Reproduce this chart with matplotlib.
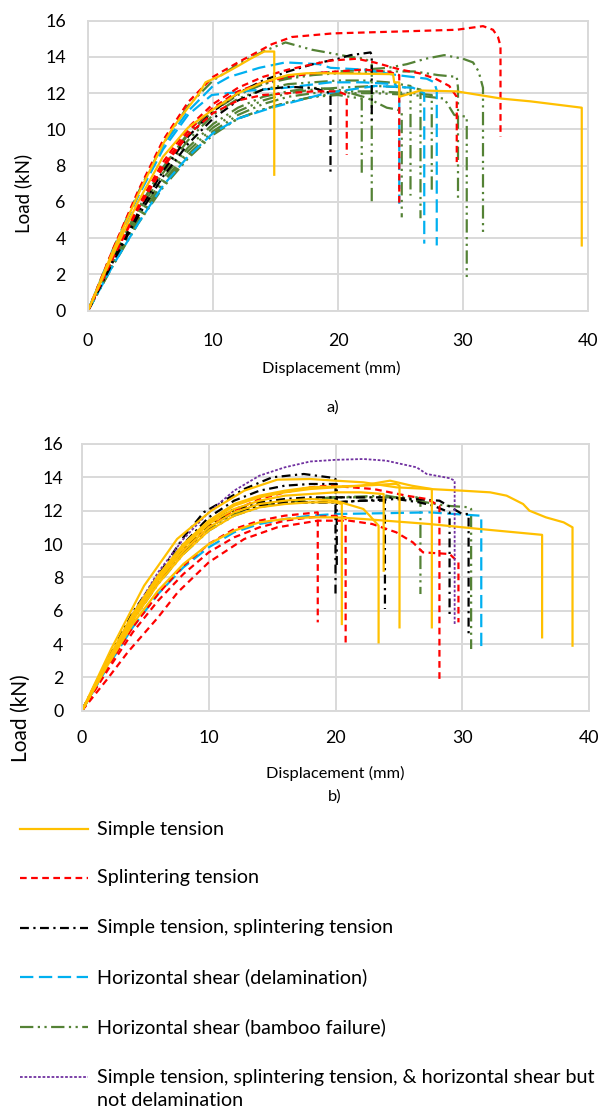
import matplotlib
matplotlib.use("Agg")
import matplotlib.pyplot as plt
from matplotlib.lines import Line2D

plt.rcParams['font.family'] = ['Lato', 'DejaVu Sans']

# ---------------- data: panel a) ----------------
# each category: list of x-lists and matching list of y-lists (one per specimen)
a_simple_x = [
    [0, 2, 4, 6, 6.8, 8, 8.9, 9.4, 10.7, 12, 13, 14.1, 14.9, 14.9],
    [0, 2, 4, 6, 8, 10, 12, 14, 16, 17.5, 19.4, 24.4, 24.5, 24.9, 24.9, 26.6, 29.5, 33.1, 35.4, 39.5, 39.5],
]
a_simple_y = [
    [0, 3.3, 6.4, 9.2, 10.1, 11.2, 12.0, 12.6, 13.0, 13.5, 13.9, 14.3, 14.3, 7.5],
    [0, 3.1, 6.0, 8.5, 10.1, 11.1, 12.0, 12.6, 13.0, 13.1, 13.1, 13.05, 12.6, 12.6, 11.8, 12.15, 12.1, 11.7, 11.55, 11.2, 3.6],
]
a_splinter_x = [
    [0, 2, 4, 6, 8, 10, 12, 14.7, 16.3, 19.6, 24.7, 29.5, 31.6, 32.4, 32.8, 33.0, 33.0],
    [0, 2, 4, 6, 8, 10, 12, 14, 16, 18, 19.4, 21.5, 22.9, 25, 26.5, 27.8, 28.9, 29.5, 29.5],
    [0, 2, 4, 6, 8, 10, 12, 14, 16, 18, 20, 20.7, 20.7],
    [0, 2, 4, 6, 8, 10, 12, 14, 16, 18, 20, 22, 24, 24.9, 24.9],
]
a_splinter_y = [
    [0, 3.4, 6.6, 9.4, 11.5, 12.9, 13.7, 14.7, 15.1, 15.3, 15.4, 15.5, 15.7, 15.5, 15.1, 14.6, 9.6],
    [0, 3.0, 5.8, 8.2, 10.1, 11.4, 12.3, 12.9, 13.3, 13.6, 13.8, 13.9, 13.7, 13.3, 13.1, 12.8, 12.4, 11.8, 8.2],
    [0, 2.9, 5.6, 7.9, 9.7, 10.9, 11.6, 11.9, 12.0, 12.1, 12.1, 11.9, 8.6],
    [0, 3.0, 5.7, 8.0, 9.9, 11.2, 12.1, 12.6, 12.9, 13.1, 13.2, 13.3, 13.2, 13.0, 5.9],
]
a_both_x = [
    [0, 2, 4, 6, 8, 10, 12, 14, 16, 18, 19.4, 19.4],
    [0, 2, 4, 6, 8, 10, 12, 14, 16, 18, 20, 21, 22.1, 22.6, 22.7, 22.7],
]
a_both_y = [
    [0, 2.7, 5.2, 7.4, 9.2, 10.6, 11.6, 12.2, 12.35, 12.3, 12.0, 7.5],
    [0, 2.8, 5.4, 7.7, 9.6, 11.0, 12.0, 12.7, 13.2, 13.6, 13.9, 14.1, 14.2, 14.25, 14.1, 10.5],
]
a_delam_x = [
    [0, 2, 4, 6, 8, 10, 11.3, 13.7, 15.8, 18.5, 19.4, 22.1, 24.7, 27.1, 27.7, 27.9, 27.9],
    [0, 2, 4, 6, 8, 9.9, 13.1, 15.8, 19.4, 22, 24.5, 24.9, 24.9],
    [0, 2, 4, 6, 8, 10, 12, 14.7, 18.5, 20, 23, 26, 26.9, 26.9],
]
a_delam_y = [
    [0, 3.3, 6.4, 9.1, 11.0, 12.4, 12.9, 13.4, 13.7, 13.6, 13.4, 13.3, 13.0, 12.8, 12.6, 12.15, 3.6],
    [0, 3.3, 6.3, 8.9, 10.8, 11.9, 12.15, 12.3, 12.6, 12.6, 12.5, 12.3, 5.9],
    [0, 2.5, 4.8, 6.9, 8.5, 9.8, 10.6, 11.2, 11.9, 12.1, 12.4, 12.3, 12.0, 3.7],
]
a_bamboo_x = [
    [0, 2, 4, 6, 8, 10, 12, 14, 15.8, 17.9, 19.5, 21, 22.2, 22.7, 22.7],
    [0, 2, 4, 6, 8, 10, 12, 14, 16, 18, 20, 22, 24, 25.5, 27, 28.5, 30, 30.8, 31.25, 31.6, 31.6],
    [0, 2, 4, 6, 8, 10, 12, 14, 16, 18, 20, 23, 26.1, 28, 29.5, 29.6, 29.6],
    [0, 2, 4, 6, 8, 10, 12, 14, 16, 18, 20, 22.3, 23.9, 24.7, 25.1, 25.1],
    [0, 2, 4, 6, 8, 10, 12, 14, 16, 18, 20, 21.9, 21.9],
    [0, 2, 4, 6, 8, 10, 12, 14, 16, 18, 20, 22, 24, 25.8, 25.8],
    [0, 2, 4, 6, 8, 10, 12, 14, 16, 18, 20, 23, 26, 26.6, 26.6],
    [0, 2, 4, 6, 8, 10, 12, 14, 16, 18, 20, 23, 26, 27.5, 27.5],
    [0, 2, 4, 6, 8, 10, 12, 14, 16, 18, 20, 23, 26, 28.5, 29.3, 30.3, 30.3],
]
a_bamboo_y = [
    [0, 3.4, 6.5, 9.2, 11.3, 12.7, 13.6, 14.3, 14.8, 14.4, 14.2, 14.0, 13.9, 13.6, 5.8],
    [0, 2.9, 5.6, 7.9, 9.7, 11.0, 11.9, 12.5, 12.9, 13.1, 13.2, 13.3, 13.4, 13.6, 13.9, 14.1, 13.9, 13.7, 13.2, 12.3, 4.3],
    [0, 2.9, 5.6, 7.9, 9.8, 11.1, 12.0, 12.5, 12.8, 13.0, 13.1, 13.2, 13.2, 13.0, 12.9, 12.3, 6.2],
    [0, 2.7, 5.2, 7.3, 9.0, 10.3, 11.2, 11.8, 12.1, 12.3, 12.2, 11.75, 11.2, 11.1, 11.0, 5.15],
    [0, 2.5, 4.9, 6.9, 8.5, 9.8, 10.6, 11.1, 11.5, 11.8, 11.9, 11.7, 7.5],
    [0, 2.8, 5.4, 7.6, 9.4, 10.8, 11.7, 12.2, 12.5, 12.6, 12.7, 12.7, 12.6, 12.4, 6.35],
    [0, 2.6, 5.0, 7.1, 8.8, 10.1, 11.0, 11.6, 12.0, 12.2, 12.3, 12.4, 12.3, 12.2, 5.1],
    [0, 2.6, 5.0, 7.0, 8.6, 9.9, 10.8, 11.4, 11.8, 12.0, 12.1, 12.1, 12.0, 11.9, 6.6],
    [0, 2.5, 4.8, 6.8, 8.4, 9.7, 10.6, 11.1, 11.5, 11.8, 12.0, 12.0, 11.9, 11.7, 10.8, 10.7, 1.8],
]

# ---------------- data: panel b) ----------------
b_simple_x = [
    [0, 2.3, 4.9, 7.5, 10.2, 12.8, 15.4, 18, 20, 22.2, 24.8, 27.4, 30, 32.2, 33.5, 34.8, 35.3, 36.6, 38, 38.7, 38.7],
    [0, 2, 4, 6, 8, 10, 12, 14, 16, 18, 20, 22.2, 24.5, 24.8, 25.05, 25.05],
    [0, 2, 4, 6, 8, 10, 12, 14, 16, 18, 20, 20.5, 20.5],
    [0, 2, 4, 6, 8, 10, 12, 14, 16, 18, 20, 22.2, 22.7, 23.4, 23.4],
    [0, 2, 4, 6, 8, 10, 12, 14, 16, 18, 20, 22, 23.8, 23.8],
    [0, 2, 4, 6, 8, 10, 12, 14, 16, 18, 20, 22, 24.3, 26, 27.6, 27.6],
    [0, 2, 4, 6, 8, 10, 12, 14, 16, 18, 20, 22.2, 27.4, 31.4, 36.3, 36.3],
]
b_simple_y = [
    [0, 3.7, 7.5, 10.3, 12.0, 13.2, 13.86, 13.9, 13.8, 13.7, 13.4, 13.3, 13.2, 13.1, 12.9, 12.4, 12.0, 11.6, 11.3, 11.0, 3.9],
    [0, 3.0, 5.8, 8.1, 10.0, 11.4, 12.4, 12.9, 13.2, 13.4, 13.45, 13.5, 13.6, 13.6, 13.5, 5.0],
    [0, 2.8, 5.4, 7.6, 9.4, 10.8, 11.7, 12.2, 12.4, 12.5, 12.5, 12.4, 5.2],
    [0, 2.9, 5.6, 7.8, 9.6, 11.0, 11.9, 12.4, 12.6, 12.7, 12.6, 12.1, 11.7, 11.1, 4.1],
    [0, 2.9, 5.6, 7.9, 9.8, 11.2, 12.1, 12.6, 12.9, 13.0, 13.1, 13.1, 13.0, 8.4],
    [0, 2.9, 5.7, 8.0, 9.9, 11.3, 12.3, 12.8, 13.1, 13.3, 13.4, 13.5, 13.8, 13.5, 13.3, 5.0],
    [0, 2.7, 5.2, 7.2, 8.8, 10.0, 10.8, 11.3, 11.5, 11.6, 11.6, 11.5, 11.2, 10.9, 10.55, 4.4],
]
b_splinter_x = [
    [0, 2, 3.6, 6, 7.55, 10, 12.8, 15.4, 18.6, 21.1, 22.9, 24.8, 26.1, 26.9, 29, 29.7, 29.7],
    [0, 2, 4, 6, 8, 10, 12, 14, 16, 18.6, 18.6],
    [0, 2, 4, 6, 8, 10, 12, 14, 16, 18, 20, 20.8, 20.8],
    [0, 2, 4, 6, 8, 10, 12, 14, 16, 18, 19.5, 23, 25.6, 27.2, 28.2, 28.2],
]
b_splinter_y = [
    [0, 1.9, 3.5, 5.6, 7.1, 8.9, 10.3, 11.0, 11.4, 11.4, 11.2, 10.7, 10.1, 9.5, 9.4, 8.9, 5.3],
    [0, 2.6, 5.0, 7.0, 8.7, 10.0, 10.9, 11.4, 11.7, 11.9, 5.3],
    [0, 2.4, 4.7, 6.6, 8.2, 9.5, 10.4, 11.0, 11.4, 11.6, 11.7, 11.6, 4.0],
    [0, 2.8, 5.5, 7.8, 9.6, 11.0, 12.0, 12.7, 13.1, 13.4, 13.5, 13.3, 12.9, 12.7, 12.3, 1.8],
]
b_both_x = [
    [0, 2, 4, 6, 8, 9.6, 12.8, 15, 17.5, 19.5, 20, 20],
    [0, 2, 4, 6, 8, 10, 12, 14, 16, 18, 20.1, 20.1],
    [0, 2, 4, 6, 8, 10, 12, 14, 16, 18, 20, 22, 23.9, 23.9],
    [0, 2, 4, 6, 8, 10, 12, 14, 16, 18, 20, 22.2, 24.8, 26.6, 27.7, 29, 29],
    [0, 2, 4, 6, 8, 10, 12, 14, 16, 18, 20, 24, 28.2, 30, 30.5, 30.5],
]
b_both_y = [
    [0, 3.0, 5.9, 8.1, 10.4, 11.9, 13.3, 14.0, 14.2, 14.0, 13.9, 7.0],
    [0, 3.0, 5.8, 8.1, 10.0, 11.6, 12.6, 13.2, 13.5, 13.6, 13.6, 8.5],
    [0, 2.9, 5.6, 7.8, 9.6, 11.0, 11.9, 12.3, 12.5, 12.5, 12.5, 12.6, 12.6, 6.1],
    [0, 2.9, 5.7, 7.9, 9.7, 11.1, 12.0, 12.4, 12.5, 12.5, 12.5, 12.6, 12.7, 12.5, 12.3, 11.9, 5.7],
    [0, 3.0, 5.8, 8.0, 9.8, 11.2, 12.1, 12.5, 12.7, 12.8, 12.8, 12.8, 12.6, 11.8, 11.8, 4.4],
]
b_delam_x = [[0, 2, 4, 6, 8, 10, 12, 14, 16, 18, 20, 24, 27.4, 31.4, 31.5, 31.5]]
b_delam_y = [[0, 2.6, 5.0, 7.0, 8.6, 9.8, 10.7, 11.2, 11.5, 11.7, 11.8, 11.85, 11.9, 11.7, 11.7, 3.6]]
b_bamboo_x = [
    [0, 2, 4, 6, 8, 10, 12, 14, 16, 18, 20, 23.5, 26.4, 26.7, 26.7],
    [0, 2, 4, 6, 8, 10, 12, 14, 16, 18, 20, 24, 28.7, 30.6, 30.7, 30.7],
]
b_bamboo_y = [
    [0, 2.8, 5.5, 7.7, 9.5, 10.9, 11.8, 12.3, 12.5, 12.7, 12.8, 12.8, 12.8, 12.7, 7.0],
    [0, 2.8, 5.4, 7.6, 9.4, 10.8, 11.7, 12.2, 12.5, 12.7, 12.8, 12.9, 12.3, 12.2, 12.1, 3.7],
]
b_mixed_x = [[0, 2, 4, 6, 8, 10, 12, 14, 16, 18, 20, 22.2, 24, 26.4, 27.2, 29, 29.4, 29.4]]
b_mixed_y = [[0, 2.9, 5.8, 8.3, 10.3, 11.9, 13.2, 14.1, 14.6, 14.95, 15.05, 15.1, 15.0, 14.6, 14.2, 13.95, 13.8, 5.1]]

labels = [
    ['Simple tension'],
    ['Splintering tension'],
    ['Simple tension, splintering tension'],
    ['Horizontal shear (delamination)'],
    ['Horizontal shear (bamboo failure)'],
    ['Simple tension, splintering tension, & horizontal shear but', 'not delamination'],
]

# line styles per category (same order as labels)
styles = {
    'simple':   dict(color='#FFC000', lw=1.6, ls='-'),
    'splinter': dict(color='#FF0000', lw=1.6, ls=(0, (3, 2))),
    'both':     dict(color='#000000', lw=1.6, ls=(0, (4, 2, 1, 2))),
    'delam':    dict(color='#00B0F0', lw=1.6, ls=(0, (6, 2.5))),
    'bamboo':   dict(color='#548235', lw=1.6, ls=(0, (6, 2, 1, 2, 1, 2))),
    'mixed':    dict(color='#7030A0', lw=1.3, ls=(0, (1.5, 1))),
}
order = ['simple', 'splinter', 'both', 'delam', 'bamboo', 'mixed']
draw_order = ['bamboo', 'delam', 'both', 'splinter', 'mixed', 'simple']

panel_a = {
    'simple': (a_simple_x, a_simple_y), 'splinter': (a_splinter_x, a_splinter_y),
    'both': (a_both_x, a_both_y), 'delam': (a_delam_x, a_delam_y),
    'bamboo': (a_bamboo_x, a_bamboo_y),
}
panel_b = {
    'simple': (b_simple_x, b_simple_y), 'splinter': (b_splinter_x, b_splinter_y),
    'both': (b_both_x, b_both_y), 'delam': (b_delam_x, b_delam_y),
    'bamboo': (b_bamboo_x, b_bamboo_y), 'mixed': (b_mixed_x, b_mixed_y),
}

W, H = 613, 1110
fig = plt.figure(figsize=(W / 100, H / 100), dpi=100)
GRID = '#D9D9D9'


def px(x, y):
    # pixel position (from top-left) -> figure fraction
    return x / W, 1 - y / H


def setup(ax, xpad, ypad):
    ax.set_xlim(0, 40)
    ax.set_ylim(0, 16)
    ax.set_xticks([0, 10, 20, 30, 40])
    ax.set_yticks(range(0, 17, 2))
    ax.grid(True, color=GRID, lw=1.4)
    ax.set_axisbelow(True)
    for s in ax.spines.values():
        s.set_color(GRID)
        s.set_linewidth(1.4)
    ax.tick_params(length=0, labelsize=12.8, colors='black')
    ax.tick_params(axis='x', pad=xpad)
    ax.tick_params(axis='y', pad=ypad)


def draw(ax, panel):
    for key in draw_order:
        if key not in panel:
            continue
        xs, ys = panel[key]
        for x, y in zip(xs, ys):
            ax.plot(x, y, solid_joinstyle='round', dash_capstyle='butt', **styles[key])


ax_a = fig.add_axes([88 / W, 1 - 310.7 / H, 500 / W, 290 / H])
setup(ax_a, 16, 16)
draw(ax_a, panel_a)

ax_b = fig.add_axes([82 / W, 1 - 710.7 / H, 507 / W, 266.7 / H])
setup(ax_b, 14, 13.5)
draw(ax_b, panel_b)

lab_fs = 11.8
fig.text(*px(23, 193), 'Load (kN)', rotation=90, ha='center', va='center', fontsize=13.5)
fig.text(*px(331, 368), 'Displacement (mm)', ha='center', va='center', fontsize=lab_fs)
fig.text(*px(333, 408), 'a)', ha='center', va='center', fontsize=lab_fs)
fig.text(*px(21, 718), 'Load (kN)', rotation=90, ha='center', va='center', fontsize=15)
fig.text(*px(335, 773), 'Displacement (mm)', ha='center', va='center', fontsize=lab_fs)
fig.text(*px(335, 797), 'b)', ha='center', va='center', fontsize=lab_fs)

# legend drawn by hand below the two panels
leg_fs = 14.2
leg_y = [829, 878, 928, 977, 1027, 1077]
for key, lab, ly in zip(order, labels, leg_y):
    st = styles[key]
    x0, y0 = px(20, ly)
    x1, _ = px(88, ly)
    fig.add_artist(Line2D([x0, x1], [y0, y0], transform=fig.transFigure,
                          color=st['color'], lw=st['lw'], ls=st['ls']))
    for i, line in enumerate(lab):
        fig.text(*px(97, ly + 23 * i), line, ha='left', va='center', fontsize=leg_fs)

fig.savefig('out.png', dpi=100)
